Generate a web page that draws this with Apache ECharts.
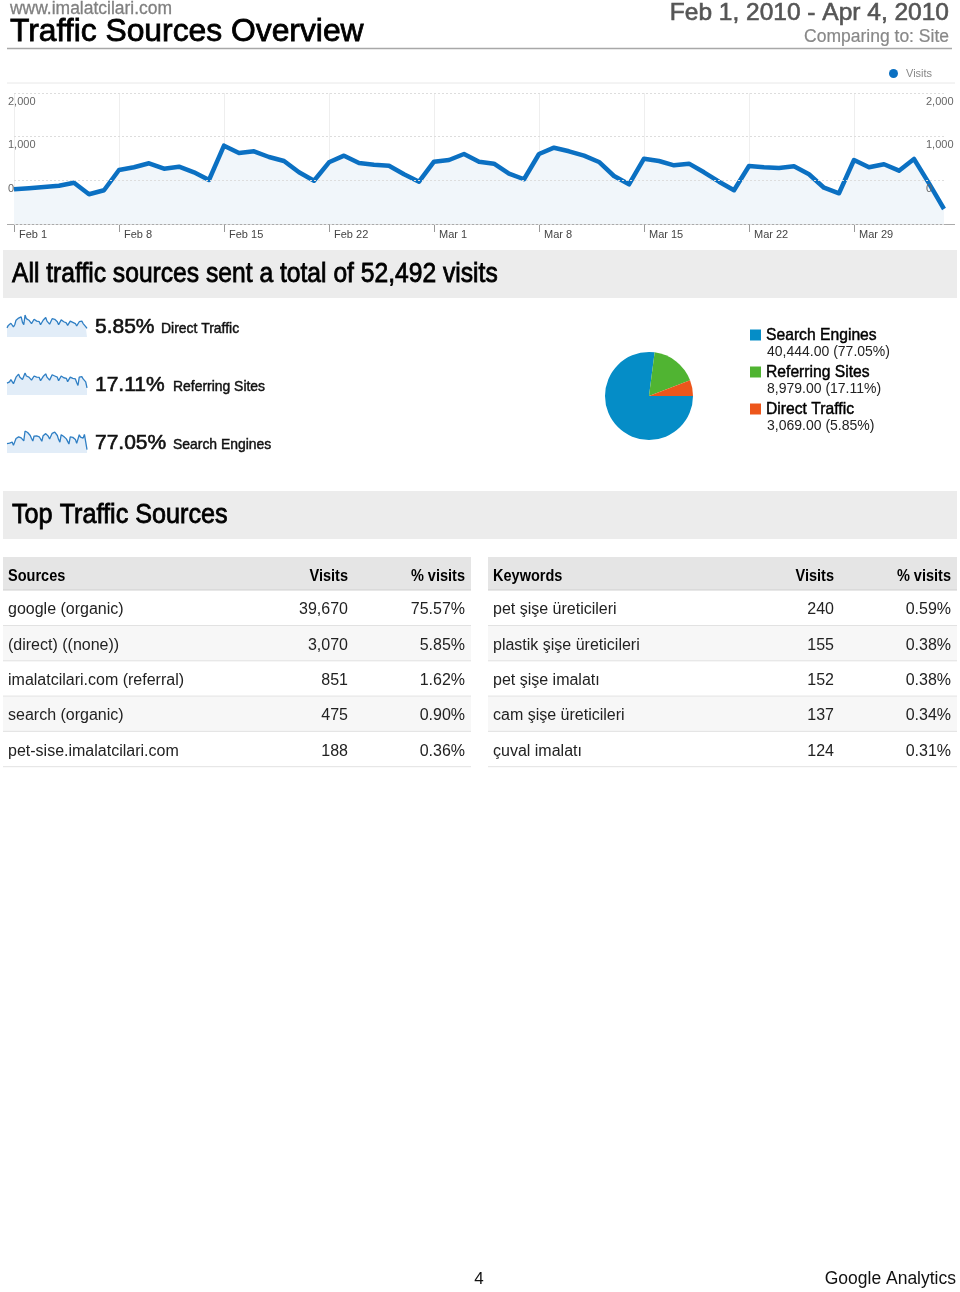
<!DOCTYPE html>
<html><head><meta charset="utf-8">
<script src="https://cdn.jsdelivr.net/npm/echarts@6.0.0/dist/echarts.min.js"></script>
<style>html,body{margin:0;padding:0;background:#fff}#c{width:960px;height:1292px}</style>
</head><body><div id="c"></div>
<script>
const FONT = '"Liberation Sans", Arial, Helvetica, sans-serif';

// ---- categories ----
const monthDays = [['Feb', 28], ['Mar', 31], ['Apr', 4]];
const dayLabels = [];
monthDays.forEach(([m, n]) => { for (let d = 1; d <= n; d++) dayLabels.push(m + ' ' + d); });

// ---- main series (daily visits, Feb 1 - Apr 4, 2010) ----
const visits = [530, 545, 565, 585, 631, 454, 515,
  825, 866, 927, 844, 875, 789, 672,
  1196, 1084, 1110, 1023, 962, 789, 661,
  942, 1043, 931, 906, 890, 759, 646,
  951, 977, 1069, 951, 921, 768, 683,
  1069, 1165, 1110, 1043, 947, 733, 606,
  997, 962, 896, 921, 789, 646, 515,
  886, 866, 855, 881, 759, 554, 469,
  977, 866, 912, 814, 993, 621, 229];
const yTickLabels = ['', '0', '1,000', '2,000'];

// ---- sparklines ----
const directSpark = [30, 38, 35, 45, 42, 33, 40, 55, 50, 62, 58, 66, 48, 40, 72, 60, 64, 55, 58, 44, 38,
  58, 62, 52, 56, 50, 40, 36, 55, 58, 64, 52, 54, 42, 38, 60, 66, 58, 55, 50, 40, 36,
  56, 52, 50, 54, 46, 38, 34, 52, 50, 48, 53, 44, 36, 32, 50, 46, 52, 44, 48, 34, 28];
const referringSpark = [100, 115, 110, 130, 125, 95, 105, 150, 160, 175, 150, 165, 130, 115, 185, 160, 170, 150, 158, 125, 110,
  160, 172, 150, 155, 148, 120, 108, 155, 165, 178, 150, 152, 125, 112, 170, 180, 160, 158, 150, 120, 105,
  160, 152, 145, 150, 140, 112, 100, 150, 148, 140, 152, 135, 105, 80, 150, 142, 155, 135, 150, 110, 60];
const searchSpark = [400, 395, 420, 410, 465, 325, 375, 620, 656, 690, 636, 644, 611, 517, 939, 864, 876, 818, 746, 620, 513,
  724, 809, 729, 695, 692, 599, 502, 741, 754, 827, 749, 715, 601, 533, 839, 919, 892, 830, 747, 573, 465,
  781, 758, 701, 717, 603, 496, 381, 684, 668, 667, 676, 580, 413, 357, 777, 678, 705, 635, 795, 477, 141];
const sparkNames = ['Direct Traffic', 'Referring Sites', 'Search Engines'];
const sparkPct = ['5.85%', '17.11%', '77.05%'];

// ---- pie ----
const pieNames = ['Search Engines', 'Referring Sites', 'Direct Traffic'];
const pieValues = [40444, 8979, 3069];
const piePct = ['77.05%', '17.11%', '5.85%'];
const pieColors = ['#058dc7', '#50b432', '#ed561b'];

// ---- tables ----
const sources = ['google (organic)', '(direct) ((none))', 'imalatcilari.com (referral)', 'search (organic)', 'pet-sise.imalatcilari.com'];
const sourceVisits = [39670, 3070, 851, 475, 188];
const sourcePct = ['75.57%', '5.85%', '1.62%', '0.90%', '0.36%'];
const keywords = ['pet şişe üreticileri', 'plastik şişe üreticileri', 'pet şişe imalatı', 'cam şişe üreticileri', 'çuval imalatı'];
const keywordVisits = [240, 155, 152, 137, 124];
const keywordPct = ['0.59%', '0.38%', '0.38%', '0.34%', '0.31%'];

const totalVisits = 52492;

// ---------- helpers ----------
const fmt = n => n.toLocaleString('en-US');
function txt(x, y, text, fs, o) {
  o = o || {};
  const st = {
    text: text, fontSize: fs, fontFamily: FONT, fontWeight: o.bold ? 'bold' : 'normal',
    fill: o.color || '#111', align: o.align || 'left', textAlign: o.align || 'left',
    verticalAlign: 'middle', textVerticalAlign: 'middle'
  };
  if (o.heavy) { st.stroke = o.color || '#111'; st.lineWidth = o.heavy; }
  return { type: 'text', x: x, y: y, scaleX: o.sx || 1, silent: true, z: 10, style: st };
}
function rect(x, y, w, h, color) {
  return { type: 'rect', shape: { x: x, y: y, width: w, height: h }, style: { fill: color }, silent: true, z: 1 };
}
function hline(x1, x2, y, color, w) {
  return { type: 'line', shape: { x1: x1, y1: y, x2: x2, y2: y }, style: { stroke: color, lineWidth: w || 1 }, silent: true, z: 2 };
}

const LINE = '#0b70c2';
const graphics = [];

// header
graphics.push(txt(10, 9, 'www.imalatcilari.com', 18, { color: '#808080', sx: 0.97, heavy: 0.3 }));
graphics.push(txt(10, 32, 'Traffic Sources Overview', 31.5, { color: '#000', heavy: 0.8, sx: 1.01 }));
graphics.push(txt(949, 13, 'Feb 1, 2010 - Apr 4, 2010', 24.5, { color: '#555', align: 'right', heavy: 0.6 }));
graphics.push(txt(949, 37, 'Comparing to: Site', 17.5, { color: '#888', align: 'right', heavy: 0.2 }));
graphics.push(hline(7, 952, 48.5, '#a8a8a8', 1.5));
graphics.push(hline(7, 955, 83, '#e8e8e8', 1));
graphics.push(hline(7, 955, 224.5, '#aaaaaa', 1));

// total band
graphics.push(rect(3, 250, 954, 48, '#ececec'));
graphics.push(txt(12, 274, 'All traffic sources sent a total of ' + fmt(totalVisits) + ' visits', 28, { color: '#000', sx: 0.88, heavy: 0.8 }));

// sparkline labels
const sparkY = [327, 385, 443];
const sparkNameX = [161, 173, 173];
sparkNames.forEach((n, i) => {
  graphics.push(txt(95, sparkY[i], sparkPct[i], 21, { color: '#111', heavy: 0.6 }));
  graphics.push(txt(sparkNameX[i], sparkY[i] + 2, n, 14.5, { color: '#111', sx: 0.96, heavy: 0.45 }));
});

// pie legend
const legY = [335, 372, 409];
pieNames.forEach((n, i) => {
  graphics.push(rect(750, legY[i] - 5.5, 11, 11, pieColors[i]));
  graphics.push(txt(766, legY[i], n, 16.5, { color: '#000', sx: 0.95, heavy: 0.45 }));
  graphics.push(txt(767, legY[i] + 17, fmt(pieValues[i]) + '.00 (' + piePct[i] + ')', 14, { color: '#222' }));
});

// top traffic band
graphics.push(rect(3, 491, 954, 48, '#ececec'));
graphics.push(txt(12, 515, 'Top Traffic Sources', 28, { color: '#000', sx: 0.9, heavy: 0.8 }));

// tables
function table(x0, x1, head, names, vals, pcts, visX, pctX) {
  graphics.push(rect(x0, 557, x1 - x0, 33, '#e5e5e5'));
  graphics.push(hline(x0, x1, 590, '#cfcfcf', 1));
  graphics.push(txt(x0 + 5, 576, head, 16.5, { bold: true, color: '#000', sx: 0.88 }));
  graphics.push(txt(visX, 576, 'Visits', 16.5, { bold: true, color: '#000', sx: 0.88, align: 'right' }));
  graphics.push(txt(pctX, 576, '% visits', 16.5, { bold: true, color: '#000', sx: 0.88, align: 'right' }));
  names.forEach((n, i) => {
    const top = 590 + i * 35.3;
    if (i % 2 === 1) graphics.push(rect(x0, top + 0.5, x1 - x0, 35, '#f7f7f7'));
    graphics.push(hline(x0, x1, top + 35.5, '#e2e2e2', 1));
    const cy = top + 20;
    graphics.push(txt(x0 + 5, cy, n, 16, { color: '#222' }));
    graphics.push(txt(visX, cy, fmt(vals[i]), 16, { color: '#222', align: 'right' }));
    graphics.push(txt(pctX, cy, pcts[i], 16, { color: '#222', align: 'right' }));
  });
}
table(3, 471, 'Sources', sources, sourceVisits, sourcePct, 348, 465);
table(488, 957, 'Keywords', keywords, keywordVisits, keywordPct, 834, 951);

// footer
graphics.push(txt(479, 1279, '4', 17, { color: '#111', align: 'center' }));
graphics.push(txt(956, 1279, 'Google Analytics', 17.5, { color: '#111', align: 'right' }));

// ---------- chart ----------
const weekly = i => i % 7 === 0;
const sparkTops = [315, 373, 431];
const sparkData = [directSpark, referringSpark, searchSpark];

const grids = [{ left: 14, right: 16, top: 93, bottom: 1292 - 224 }];
const xAxes = [{
  type: 'category', gridIndex: 0, data: dayLabels, boundaryGap: false,
  axisLine: { show: false },
  axisTick: { show: true, interval: weekly, length: 8, lineStyle: { color: '#999' } },
  axisLabel: { interval: weekly, align: 'left', margin: 5, padding: [0, 0, 0, 5], fontSize: 11, color: '#444', fontFamily: FONT },
  splitLine: { show: true, interval: weekly, lineStyle: { color: '#eeeeee', width: 1 } }
}];
const yLabelFmt = v => yTickLabels[Math.round(v / (2000 / 3))] || '';
const yAxes = [
  { type: 'value', gridIndex: 0, min: 0, max: 2000, interval: 2000 / 3, position: 'left', z: 5,
    axisLine: { show: false }, axisTick: { show: false },
    axisLabel: { inside: true, margin: -6, verticalAlign: 'top', padding: [3, 0, 0, 0], fontSize: 11, color: '#666', fontFamily: FONT, formatter: yLabelFmt },
    splitLine: { show: true, lineStyle: { color: '#dddddd', type: [2, 2], width: 1 } } },
  { type: 'value', gridIndex: 0, min: 0, max: 2000, interval: 2000 / 3, position: 'right', z: 5,
    axisLine: { show: false }, axisTick: { show: false },
    axisLabel: { inside: true, margin: 18, align: 'left', verticalAlign: 'top', padding: [3, 0, 0, 0], fontSize: 11, color: '#666', fontFamily: FONT, formatter: yLabelFmt },
    splitLine: { show: false } }
];
const series = [{
  type: 'line', name: 'Visits', xAxisIndex: 0, yAxisIndex: 0, data: visits,
  symbol: 'none', lineStyle: { width: 4.5, color: LINE, join: 'round' }, itemStyle: { color: LINE },
  areaStyle: { color: '#f1f6fa', opacity: 1 }, z: 3, silent: true
}];

sparkData.forEach((d, i) => {
  grids.push({ left: 7, width: 80, top: sparkTops[i], height: 22 });
  xAxes.push({ type: 'category', gridIndex: i + 1, data: dayLabels, boundaryGap: false, show: false });
  yAxes.push({ type: 'value', gridIndex: i + 1, min: 0, max: Math.max.apply(null, d), show: false });
  series.push({
    type: 'line', xAxisIndex: i + 1, yAxisIndex: i + 2, data: d, symbol: 'none', silent: true,
    lineStyle: { width: 1.3, color: '#2f7fc4' }, areaStyle: { color: '#e2edf8', opacity: 1 }
  });
});

series.push({
  type: 'pie', center: [649, 396], radius: 44, startAngle: 0, clockwise: true, silent: true,
  label: { show: false }, labelLine: { show: false },
  itemStyle: { borderWidth: 0 },
  data: pieNames.map((n, i) => ({ name: n, value: pieValues[i], itemStyle: { color: pieColors[i] } }))
});

const chart = echarts.init(document.getElementById('c'), null, { renderer: 'canvas' });
chart.setOption({
  animation: false,
  backgroundColor: '#ffffff',
  textStyle: { fontFamily: FONT },
  legend: {
    data: ['Visits'], left: 884, top: 63, icon: 'circle', itemWidth: 9, itemHeight: 9,
    selectedMode: false, textStyle: { fontSize: 11, color: '#888', fontFamily: FONT, padding: [0, 0, 0, 3] }
  },
  grid: grids, xAxis: xAxes, yAxis: yAxes, series: series,
  graphic: { elements: graphics }
});
</script></body></html>
